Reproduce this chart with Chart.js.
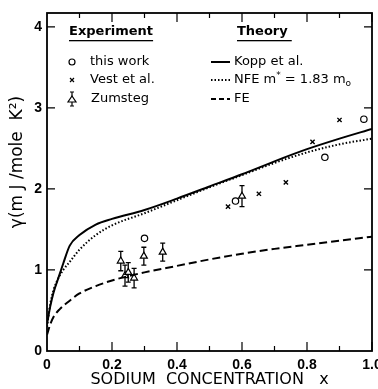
<!DOCTYPE html>
<html>
<head>
<meta charset="utf-8">
<script src="https://cdn.jsdelivr.net/npm/chart.js@4"></script>
<style>
  html, body { margin: 0; padding: 0; background: #fff; }
  #wrap { width: 378px; height: 389px; position: relative; }
</style>
</head>
<body>
<div id="wrap"><canvas id="chart"></canvas></div>
<script>
// experiment
const thisWorkX = [0.30, 0.58, 0.855, 0.975];
const thisWorkY = [1.39, 1.85, 2.39, 2.86];
const vestX = [0.557, 0.652, 0.735, 0.817, 0.90];
const vestY = [1.78, 1.94, 2.08, 2.58, 2.85];
const zumstegX = [0.227, 0.24, 0.25, 0.268, 0.298, 0.356, 0.60];
const zumstegY = [1.11, 0.93, 0.97, 0.90, 1.17, 1.22, 1.91];
const zumstegErr = [0.12, 0.13, 0.12, 0.12, 0.11, 0.11, 0.13];

// theory
const koppX = [0, 0.01, 0.02, 0.035, 0.05, 0.07, 0.1, 0.15, 0.2, 0.3, 0.4, 0.5, 0.6, 0.7, 0.8, 0.9, 1.0];
const koppY = [0.33, 0.55, 0.72, 0.9, 1.08, 1.3, 1.43, 1.56, 1.63, 1.74, 1.88, 2.03, 2.18, 2.34, 2.49, 2.62, 2.74];
const nfeX = [0, 0.01, 0.02, 0.035, 0.05, 0.07, 0.1, 0.15, 0.2, 0.3, 0.4, 0.5, 0.6, 0.7, 0.8, 0.9, 1.0];
const nfeY = [0.3, 0.58, 0.75, 0.9, 1.0, 1.1, 1.25, 1.43, 1.55, 1.7, 1.86, 2.02, 2.17, 2.32, 2.45, 2.55, 2.62];
const feX = [0, 0.01, 0.02, 0.04, 0.06, 0.1, 0.15, 0.2, 0.3, 0.4, 0.5, 0.6, 0.7, 0.8, 0.9, 1.0];
const feY = [0.2, 0.33, 0.42, 0.52, 0.59, 0.71, 0.8, 0.87, 0.97, 1.05, 1.13, 1.2, 1.26, 1.31, 1.36, 1.41];

const xTicks = [0, 0.2, 0.4, 0.6, 0.8, 1.0];
const xTickLabels = ["0", "0.2", "0.4", "0.6", "0.8", "1.0"];
const yTicks = [0, 1, 2, 3, 4];

const FONT = "'DejaVu Sans', sans-serif";
const TICKFONT = "'Liberation Sans Narrow', 'Liberation Sans', sans-serif";
const pts = (xs, ys) => xs.map((x, i) => ({ x, y: ys[i] }));

const framePlugin = {
  id: "frame",
  beforeDatasetsDraw(chart) {
    const { ctx, scales: { x, y } } = chart;
    ctx.save();
    ctx.strokeStyle = "#000";
    ctx.lineWidth = 1.3;
    zumstegX.forEach((v, i) => {
      const px = x.getPixelForValue(v);
      const top = y.getPixelForValue(zumstegY[i] + zumstegErr[i]);
      const bot = y.getPixelForValue(zumstegY[i] - zumstegErr[i]);
      ctx.beginPath();
      ctx.moveTo(px, top); ctx.lineTo(px, bot);
      ctx.moveTo(px - 2.5, top); ctx.lineTo(px + 2.5, top);
      ctx.moveTo(px - 2.5, bot); ctx.lineTo(px + 2.5, bot);
      ctx.stroke();
    });
    ctx.restore();
  },
  afterDraw(chart) {
    const { ctx, chartArea: a, scales: { x, y } } = chart;
    ctx.save();
    ctx.strokeStyle = "#000";
    ctx.lineWidth = 1.8;
    ctx.strokeRect(a.left, a.top, a.right - a.left, a.bottom - a.top);
    ctx.lineWidth = 1.2;
    ctx.beginPath();
    for (let v = 0.1; v < 1.0; v += 0.1) {
      const px = x.getPixelForValue(v);
      const major = Math.abs(v * 5 - Math.round(v * 5)) < 1e-6;
      const len = major ? 9 : 5;
      ctx.moveTo(px, a.bottom); ctx.lineTo(px, a.bottom - len);
      ctx.moveTo(px, a.top); ctx.lineTo(px, a.top + len);
    }
    yTicks.forEach(v => {
      if (v === 0) return;
      const py = y.getPixelForValue(v);
      ctx.moveTo(a.left, py); ctx.lineTo(a.left + 8, py);
      ctx.moveTo(a.right, py); ctx.lineTo(a.right - 8, py);
    });
    ctx.stroke();

    // y axis title
    ctx.save();
    ctx.translate(18, 162);
    ctx.rotate(-Math.PI / 2);
    ctx.fillStyle = "#000";
    ctx.textAlign = "center";
    ctx.textBaseline = "middle";
    ctx.font = "17px " + FONT;
    ctx.fillText("γ(m J /mole  K²)", 0, 0);
    ctx.restore();

    // legend
    ctx.fillStyle = "#000";
    ctx.textBaseline = "middle";
    ctx.font = "bold 13px " + FONT;
    ctx.fillText("Experiment", 69, 32);
    let w = ctx.measureText("Experiment").width;
    ctx.fillRect(69, 40, w, 1.3);
    ctx.fillText("Theory", 237, 32);
    w = ctx.measureText("Theory").width;
    ctx.fillRect(237, 40, w + 4, 1.3);

    ctx.font = "13px " + FONT;
    ctx.fillText("this work", 90, 62);
    ctx.fillText("Vest et al.", 90, 80);
    ctx.fillText("Zumsteg", 91, 99);
    ctx.fillText("Kopp et al.", 234, 62);
    let tx = 234;
    ctx.fillText("NFE m", tx, 80); tx += ctx.measureText("NFE m").width;
    ctx.font = "9px " + FONT; ctx.fillText("*", tx, 76); tx += ctx.measureText("*").width;
    ctx.font = "13px " + FONT; ctx.fillText(" = 1.83 m", tx, 80); tx += ctx.measureText(" = 1.83 m").width;
    ctx.font = "9px " + FONT; ctx.fillText("o", tx, 84);
    ctx.font = "13px " + FONT;
    ctx.fillText("FE", 234, 99);

    ctx.lineWidth = 1.2;
    ctx.beginPath(); ctx.arc(72, 62, 3, 0, Math.PI * 2); ctx.stroke();
    ctx.beginPath();
    ctx.moveTo(70, 78); ctx.lineTo(74, 82); ctx.moveTo(74, 78); ctx.lineTo(70, 82);
    ctx.stroke();
    ctx.beginPath();
    ctx.moveTo(72, 92); ctx.lineTo(72, 106);
    ctx.moveTo(70, 92); ctx.lineTo(74, 92);
    ctx.moveTo(70, 106); ctx.lineTo(74, 106);
    ctx.stroke();
    ctx.beginPath();
    ctx.moveTo(72, 96); ctx.lineTo(76, 102); ctx.lineTo(68, 102); ctx.closePath();
    ctx.fillStyle = "#fff"; ctx.fill(); ctx.stroke();

    ctx.lineWidth = 2;
    ctx.beginPath(); ctx.moveTo(211, 62); ctx.lineTo(230, 62); ctx.stroke();
    ctx.setLineDash([1.5, 2]);
    ctx.beginPath(); ctx.moveTo(211, 80); ctx.lineTo(230, 80); ctx.stroke();
    ctx.setLineDash([5, 3]);
    ctx.beginPath(); ctx.moveTo(211, 99); ctx.lineTo(230, 99); ctx.stroke();
    ctx.restore();
  }
};

new Chart(document.getElementById("chart"), {
  type: "scatter",
  data: {
    datasets: [
      { label: "Kopp et al.", data: pts(koppX, koppY), showLine: true, borderColor: "#000",
        borderWidth: 2, pointRadius: 0, cubicInterpolationMode: "monotone" },
      { label: "NFE", data: pts(nfeX, nfeY), showLine: true, borderColor: "#000",
        borderWidth: 2, borderDash: [1.5, 2], pointRadius: 0, cubicInterpolationMode: "monotone" },
      { label: "FE", data: pts(feX, feY), showLine: true, borderColor: "#000",
        borderWidth: 2, borderDash: [8, 4], pointRadius: 0, cubicInterpolationMode: "monotone" },
      { label: "this work", data: pts(thisWorkX, thisWorkY), pointStyle: "circle", pointRadius: 3.2,
        borderColor: "#000", backgroundColor: "#fff", borderWidth: 1.2 },
      { label: "Vest et al.", data: pts(vestX, vestY), pointStyle: "crossRot", pointRadius: 3,
        borderColor: "#000", borderWidth: 1.4 },
      { label: "Zumsteg", data: pts(zumstegX, zumstegY), pointStyle: "triangle", pointRadius: 4,
        borderColor: "#000", backgroundColor: "#fff", borderWidth: 1.2 }
    ]
  },
  options: {
    responsive: true,
    maintainAspectRatio: false,
    animation: false,
    layout: { padding: { top: 13, right: 6, left: 0, bottom: 0 } },
    plugins: { legend: { display: false }, tooltip: { enabled: false } },
    scales: {
      x: {
        type: "linear", min: 0, max: 1.0,
        grid: { display: false, drawTicks: false },
        border: { display: false },
        afterBuildTicks: s => { s.ticks = xTicks.map(v => ({ value: v })); },
        afterFit: s => { s.height = 38; s.paddingLeft = 0; s.paddingRight = 0; },
        ticks: {
          padding: 6, color: "#000", maxRotation: 0,
          font: { family: TICKFONT, size: 14, weight: "bold" },
          callback: (v) => xTickLabels[xTicks.findIndex(t => Math.abs(t - v) < 1e-6)]
        },
        title: { display: true, text: "SODIUM  CONCENTRATION   x", color: "#000",
          font: { family: FONT, size: 16 }, padding: { top: 1, bottom: 0 } }
      },
      y: {
        type: "linear", min: 0, max: 4.17,
        grid: { display: false, drawTicks: false },
        border: { display: false },
        afterBuildTicks: s => { s.ticks = yTicks.map(v => ({ value: v })); },
        afterFit: s => { s.width = 47; s.paddingTop = 0; s.paddingBottom = 0; },
        ticks: { padding: 5, color: "#000", font: { family: TICKFONT, size: 14, weight: "bold" } }
      }
    }
  },
  plugins: [framePlugin]
});
</script>
</body>
</html>
